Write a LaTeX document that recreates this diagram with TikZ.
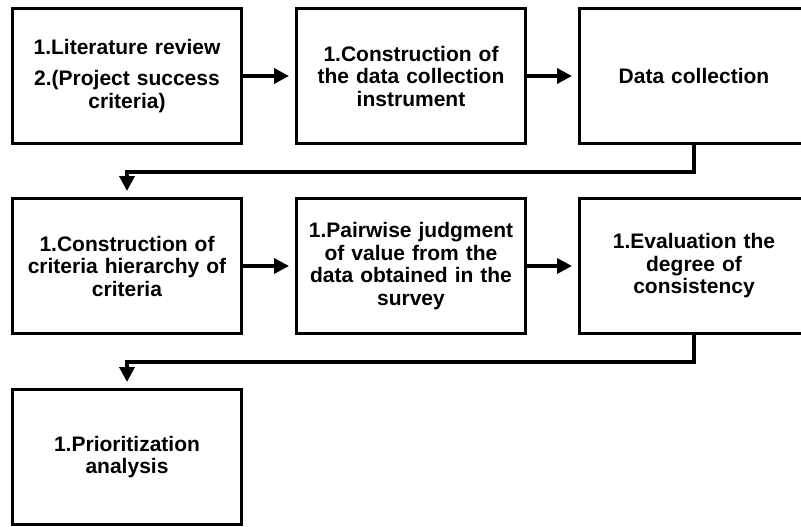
\documentclass[tikz,border=0pt]{standalone}
\usepackage{fontspec}
\setmainfont{Liberation Sans}
\usetikzlibrary{arrows.meta}
\tikzset{
  stepbox/.style={draw=black, line width=3pt, fill=white, minimum width=229pt, minimum height=135pt,
    inner sep=0pt, text width=224pt, align=center,
    font=\bfseries\fontsize{21}{22.5}\selectfont},
  conn/.style={draw=black, line width=3.5pt, -{Triangle[length=15pt,width=15pt]}, shorten >=6pt}
}
\begin{document}
\begin{tikzpicture}[x=1pt,y=-1pt]
\useasboundingbox (0,0) rectangle (801,527);
\clip (0,0) rectangle (801,527);
\fill[white] (0,0) rectangle (801,527);
\node[stepbox] (b1) at (127,76) {1.Literature review\\[9pt]2.(Project success\\criteria)};
\node[stepbox] (b2) at (411,76) {1.Construction of\\the data collection\\instrument};
\node[stepbox] (b3) at (694,76) {Data collection};
\node[stepbox] (b4) at (127,266) {1.Construction of\\criteria hierarchy of\\criteria};
\node[stepbox] (b5) at (411,266) {1.Pairwise judgment\\of value from the\\data obtained in the\\survey};
\node[stepbox] (b6) at (694,266) {1.Evaluation the\\degree of\\consistency};
\node[stepbox] (b7) at (127,457) {1.Prioritization\\analysis};
\draw[conn] (b1.east) -- (b2.west);
\draw[conn] (b2.east) -- (b3.west);
\draw[conn] (b3.south) -- ++(0,27) -| (b4.north);
\draw[conn] (b4.east) -- (b5.west);
\draw[conn] (b5.east) -- (b6.west);
\draw[conn] (b6.south) -- ++(0,27) -| (b7.north);
\end{tikzpicture}
\end{document}
